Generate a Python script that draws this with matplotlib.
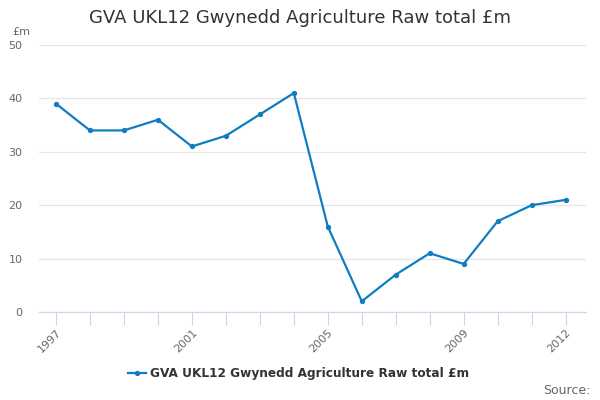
import matplotlib
matplotlib.use('Agg')
import matplotlib.pyplot as plt

# данные
years = list(range(1997, 2013))
values = [39, 34, 34, 36, 31, 33, 37, 41, 16, 2, 7, 11, 9, 17, 20, 21]
label_years = [1997, 2001, 2005, 2009, 2012]
series_name = 'GVA UKL12 Gwynedd Agriculture Raw total £m'

plt.rcParams['font.family'] = 'DejaVu Sans'
fig = plt.figure(figsize=(6, 4), dpi=100)
ax = fig.add_axes([39/600, 1-312/400, (586-39)/600, (312-45)/400])

line_col = '#0f7dc2'
ax.plot(years, values, color=line_col, lw=1.6, marker='o', ms=2.8)

ax.set_xlim(1996.5, 2012.6)
ax.set_ylim(0, 50)
ax.set_yticks([0, 10, 20, 30, 40, 50])
ax.grid(axis='y', color='#e6e6e6', lw=0.9)
ax.set_axisbelow(True)
for s in ['top', 'right', 'left']:
    ax.spines[s].set_visible(False)
ax.spines['bottom'].set_color('#ccd6eb')
ax.tick_params(axis='y', length=0, labelsize=8, colors='#666666', pad=12)
ax.set_xticks(years)
ax.set_xticklabels([str(y) if y in label_years else '' for y in years],
                   rotation=45, ha='right', rotation_mode='anchor')
ax.tick_params(axis='x', length=9, color='#ccd6eb', labelsize=8,
               labelcolor='#666666', pad=2)

fig.text(0.5, 1-18/400, 'GVA UKL12 Gwynedd Agriculture Raw total £m',
         ha='center', va='center', fontsize=13, color='#333333')
fig.text(12/600, 1-32/400, '£m', ha='left', va='center', fontsize=8, color='#666666')

# легенда
fig.lines.append(plt.Line2D([128/600, 146/600], [1-373/400]*2, color=line_col,
                            lw=1.6, transform=fig.transFigure))
fig.lines.append(plt.Line2D([137/600], [1-373/400], color=line_col,
                            marker='o', ms=2.8, transform=fig.transFigure))
fig.text(150/600, 1-373/400, series_name, ha='left', va='center',
         fontsize=8.7, fontweight='bold', color='#333333')
fig.text(590/600, 1-390/400, 'Source:', ha='right', va='center',
         fontsize=9, color='#666666')

fig.savefig('out.png', dpi=100)
